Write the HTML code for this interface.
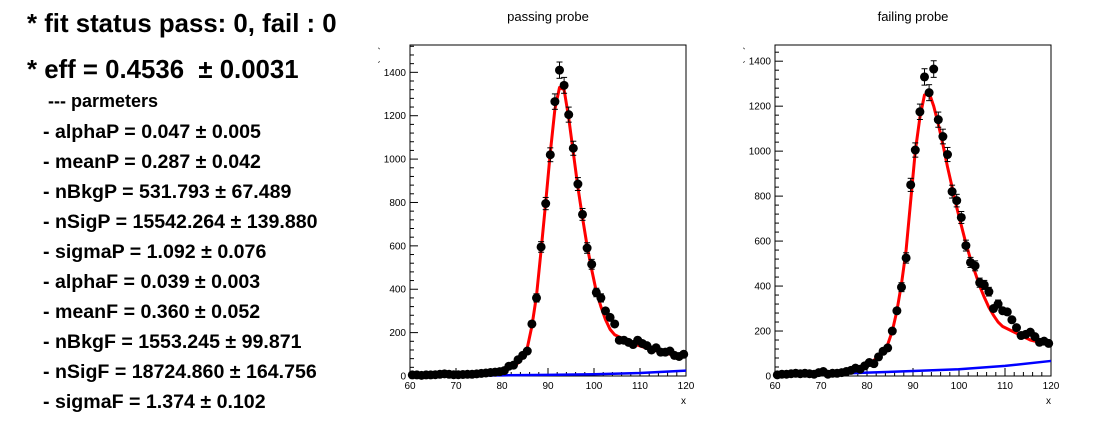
<!DOCTYPE html>
<html><head><meta charset="utf-8"><style>
body{margin:0;background:#fff;width:1096px;height:422px;overflow:hidden}
svg{display:block}
</style></head><body>
<svg id="root" width="1096" height="422" xmlns="http://www.w3.org/2000/svg" font-family="Liberation Sans, sans-serif">
<defs><clipPath id="ytclip"><rect x="0" y="0" width="1096" height="66"/></clipPath></defs>
<g font-weight="bold" fill="#000">
<text x="27" y="32" font-size="25.8">* fit status pass: 0, fail : 0</text>
<text x="27" y="78" font-size="25.8">* eff = 0.4536 &#160;± 0.0031</text>
<text x="48" y="107" font-size="18">--- parmeters</text>
<g font-size="19.6">
<text x="43" y="138">- alphaP = 0.047 ± 0.005</text>
<text x="43" y="168">- meanP = 0.287 ± 0.042</text>
<text x="43" y="198">- nBkgP = 531.793 ± 67.489</text>
<text x="43" y="228">- nSigP = 15542.264 ± 139.880</text>
<text x="43" y="258">- sigmaP = 1.092 ± 0.076</text>
<text x="43" y="288">- alphaF = 0.039 ± 0.003</text>
<text x="43" y="318">- meanF = 0.360 ± 0.052</text>
<text x="43" y="348">- nBkgF = 1553.245 ± 99.871</text>
<text x="43" y="378">- nSigF = 18724.860 ± 164.756</text>
<text x="43" y="408">- sigmaF = 1.374 ± 0.102</text>
</g>
</g>
</svg>
<script>
const binCenters = Array.from({length:60},(_, i)=>60.5+i);
const passData = [5,5,3,5,5,6,8,10,8,6,6,7,8,8,10,12,14,16,18,20,
25,45,50,75,95,115,240,360,595,795,1020,1265,1410,1340,1205,1050,885,745,590,515,
385,360,300,270,240,165,165,155,145,165,150,140,120,130,110,110,115,95,90,100];
const passFit = [3,3,4,4,5,5,6,6,7,7,8,9,10,11,12,13,15,17,20,23,
28,35,45,60,85,130,230,370,580,800,1030,1230,1330,1320,1190,1030,870,730,600,490,
390,320,260,215,190,180,170,160,150,142,135,128,122,116,110,105,100,96,92,88];
const passBkgX = [60,70,80,90,100,110,120];
const passBkg = [1,2,3,5,8,14,25];
const failData = [5,8,8,10,12,10,12,10,8,15,20,8,12,12,15,20,25,35,30,45,
60,55,85,110,125,200,290,395,525,850,1005,1175,1330,1260,1365,1140,1065,985,820,780,
705,580,505,490,415,405,375,300,320,290,285,250,215,180,185,195,175,150,155,145];
const failFit = [5,6,6,7,8,8,9,10,11,12,13,15,17,19,22,25,29,34,40,48,
58,70,85,110,140,200,290,410,560,780,1000,1150,1250,1260,1200,1120,1030,930,840,750,
670,590,520,460,400,350,305,270,240,220,210,200,190,180,170,160,155,150,145,140];
const failBkg = [3,8,15,22,30,45,67];
const xTicks = [60,70,80,90,100,110,120];
const yTicks = [0,200,400,600,800,1000,1200,1400];

const NS="http://www.w3.org/2000/svg";
const root=document.getElementById('root');
function mk(tag,attrs,parent){const e=document.createElementNS(NS,tag);for(const k in attrs)e.setAttribute(k,attrs[k]);parent.appendChild(e);return e;}

function drawPlot(name,title,x0,x1,yTop,yBot,yMax,data,fit,bkgX,bkg){
  const g=mk('g',{},root);
  
  
  const sx=v=>x0+(v-60)/60*(x1-x0);
  const sy=v=>yBot-v/yMax*(yBot-yTop);
  const t=mk('text',{x:(x0+x1)/2,y:21,'font-size':13,'text-anchor':'middle'},g);
  t.textContent=title;
  
  
  const fr=mk('rect',{x:x0,y:yTop,width:x1-x0,height:yBot-yTop,fill:'none',stroke:'#000','stroke-width':1},g);
  
  
  for(let v=0;v<=yMax;v+=40){const y=sy(v);const major=v%200===0;
    mk('line',{x1:x0,x2:x0+(major?8:4),y1:y,y2:y,stroke:'#000','stroke-width':1},g);}
  yTicks.forEach(v=>{const l=mk('text',{x:x0-4,y:sy(v)+3.5,'font-size':10,'text-anchor':'end'},g);l.textContent=v;
    
    });
  for(let v=60;v<=120;v+=2){const x=sx(v);const major=v%10===0;
    mk('line',{x1:x,x2:x,y1:yBot,y2:yBot-(major?8:4),stroke:'#000','stroke-width':1},g);}
  xTicks.forEach(v=>{const l=mk('text',{x:sx(v),y:yBot+13,'font-size':10,'text-anchor':'middle'},g);l.textContent=v;
    
    });
  const xl=mk('text',{x:x1-5,y:yBot+28,'font-size':10},g);xl.textContent='x';
  
  
  const yl=mk('text',{x:0,y:0,'font-size':10,transform:`translate(${x0-32},${yTop+58}) rotate(-90)`,fill:'#444','clip-path':'url(#ytclip)'},g);yl.textContent='Events / ( 1 )';
  
  
  const bp=mk('polyline',{points:bkgX.map((v,i)=>sx(v)+','+sy(bkg[i])).join(' '),fill:'none',stroke:'#0000ff','stroke-width':2.5},g);
  
  
  const fp=mk('polyline',{points:binCenters.map((v,i)=>sx(v)+','+sy(fit[i])).join(' '),fill:'none',stroke:'#ff0000','stroke-width':3,'stroke-linejoin':'round'},g);
  
  
  binCenters.forEach((v,i)=>{const x=sx(v),y=sy(data[i]);const e=Math.sqrt(data[i]);
    const pg=mk('g',{},g);
    
    
    if(data[i]>300){const ya=sy(data[i]+e),yb=sy(data[i]-e);
      mk('line',{x1:x,x2:x,y1:ya,y2:yb,stroke:'#000','stroke-width':1},pg);
      mk('line',{x1:x-3,x2:x+3,y1:ya,y2:ya,stroke:'#000','stroke-width':1},pg);
      mk('line',{x1:x-3,x2:x+3,y1:yb,y2:yb,stroke:'#000','stroke-width':1},pg);}
    mk('circle',{cx:x,cy:y,r:4.5,fill:'#000'},pg);
  });
}
drawPlot('passing-probe-plot','passing probe',410,686,45,376,1526,passData,passFit,passBkgX,passBkg);
drawPlot('failing-probe-plot','failing probe',775,1051,45,376,1472,failData,failFit,passBkgX,failBkg);
</script>
</body></html>
